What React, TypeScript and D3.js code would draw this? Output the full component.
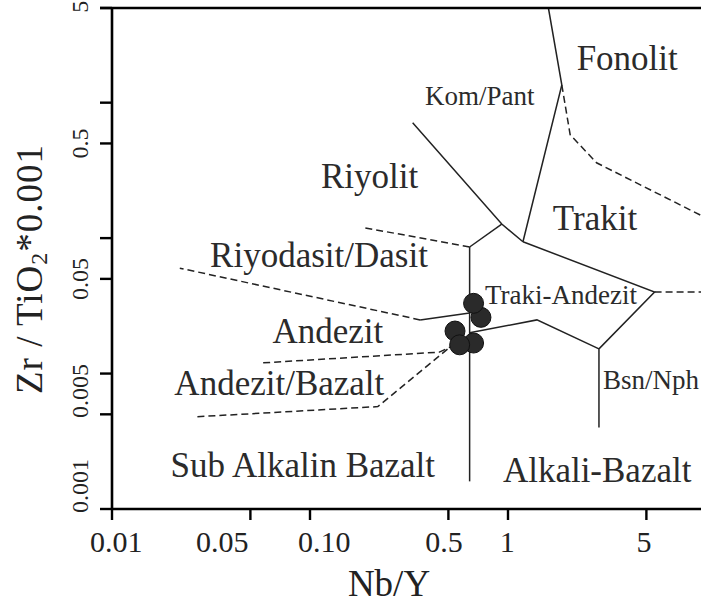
import React, { useEffect, useRef } from "react";
import * as d3 from "d3";

// Winchester & Floyd (1977) Zr/TiO2 - Nb/Y diagram
const xTicks = [0.01, 0.05, 0.1, 0.5, 1, 5, 10];
const xTickLabels = ["0.01", "0.05", "0.10", "0.5", "1", "5"];
const xLabelAt = [0.0105, 0.036, 0.118, 0.475, 0.99, 4.86];

const yTicks = [5, 1, 0.5, 0.1, 0.05, 0.01, 0.005, 0.001];
const yTickLabels = ["5", "0.5", "0.05", "0.005", "0.001"];
const yLabelAt = [5.1, 0.5, 0.05, 0.00744, 0.00148];

// field boundaries [Nb/Y, Zr/TiO2]
const solidLines: number[][][] = [
  [[1.6, 5], [1.87, 1.35], [1.19, 0.094]],
  [[0.33, 0.71], [0.93, 0.127], [1.19, 0.094]],
  [[0.93, 0.127], [0.64, 0.086]],
  [[0.64, 0.086], [0.64, 0.0016]],
  [[1.19, 0.094], [5.5, 0.04], [2.88, 0.0152], [2.88, 0.004]],
  [[2.88, 0.0152], [1.4, 0.0249], [0.64, 0.02]],
  [[0.64, 0.028], [0.36, 0.0249]],
];
const dashedLines: number[][][] = [
  [[0.36, 0.0249], [0.022, 0.06]],
  [[0.64, 0.086], [0.19, 0.119]],
  [[0.058, 0.012], [0.45, 0.0144], [0.54, 0.0163]],
  [[0.027, 0.0048], [0.22, 0.0057], [0.51, 0.0157]],
  [[1.87, 1.35], [2.06, 0.58], [2.8, 0.36], [10, 0.141]],
  [[5.5, 0.04], [10, 0.04]],
];

const fieldNames = [
  "Fonolit", "Kom/Pant", "Riyolit", "Trakit", "Riyodasit/Dasit", "Traki-Andezit",
  "Andezit", "Andezit/Bazalt", "Sub Alkalin Bazalt", "Alkali-Bazalt", "Bsn/Nph",
];
const fieldX = [4.0, 0.72, 0.2, 2.75, 0.111, 1.85, 0.123, 0.07, 0.092, 2.82, 3.02];
const fieldY = [1.75, 0.96, 0.235, 0.115, 0.0612, 0.0327, 0.0168, 0.00695, 0.00172, 0.00158, 0.0077];
const smallFields = ["Kom/Pant", "Traki-Andezit", "Bsn/Nph"];

// samples
const sampleNbY = [0.73, 0.67, 0.67, 0.54, 0.57];
const sampleZrTi = [0.026, 0.033, 0.0168, 0.0206, 0.0163];

const W = 701;
const H = 609;
const FONT = "'Liberation Serif', 'Times New Roman', serif";

export default function App() {
  const ref = useRef<SVGSVGElement>(null);

  useEffect(() => {
    const svg = d3.select(ref.current);
    svg.selectAll("*").remove();

    const x = d3.scaleLog().domain([0.01, 10]).range([112, 706]);
    const y = d3.scaleLog().domain([0.001, 5]).range([509, 8]);

    const line = d3
      .line<number[]>()
      .x(d => x(d[0]))
      .y(d => y(d[1]));

    const g = svg.append("g");

    g.selectAll("path.solid")
      .data(solidLines)
      .enter()
      .append("path")
      .attr("class", "solid")
      .attr("d", line)
      .attr("fill", "none")
      .attr("stroke", "#222")
      .attr("stroke-width", 1.5);

    g.selectAll("path.dashed")
      .data(dashedLines)
      .enter()
      .append("path")
      .attr("class", "dashed")
      .attr("d", line)
      .attr("fill", "none")
      .attr("stroke", "#222")
      .attr("stroke-width", 1.5)
      .attr("stroke-dasharray", "7,4");

    // field names
    g.selectAll("text.field")
      .data(fieldNames)
      .enter()
      .append("text")
      .attr("class", "field")
      .attr("x", (d, i) => x(fieldX[i]))
      .attr("y", (d, i) => y(fieldY[i]))
      .attr("text-anchor", d => (d === "Bsn/Nph" ? "start" : "middle"))
      .attr("font-family", FONT)
      .attr("font-size", d => (smallFields.includes(d) ? 27 : 35))
      .attr("fill", "#2b2b2b")
      .text(d => d);

    // samples
    g.selectAll("circle")
      .data(sampleNbY)
      .enter()
      .append("circle")
      .attr("cx", d => x(d))
      .attr("cy", (d, i) => y(sampleZrTi[i]))
      .attr("r", 10)
      .attr("fill", "#2a2a2a")
      .attr("stroke", "#111")
      .attr("stroke-width", 1);

    // axes
    const axisColor = "#000";
    svg.append("line")
      .attr("x1", 112).attr("x2", 112)
      .attr("y1", y(5)).attr("y2", y(0.001))
      .attr("stroke", axisColor).attr("stroke-width", 2.6);
    svg.append("line")
      .attr("x1", 111).attr("x2", W)
      .attr("y1", y(0.001)).attr("y2", y(0.001))
      .attr("stroke", axisColor).attr("stroke-width", 2.6);
    svg.append("line")
      .attr("x1", 100).attr("x2", W)
      .attr("y1", y(5)).attr("y2", y(5))
      .attr("stroke", axisColor).attr("stroke-width", 2.6);

    svg.selectAll("line.xtick")
      .data(xTicks)
      .enter()
      .append("line")
      .attr("class", "xtick")
      .attr("x1", d => x(d)).attr("x2", d => x(d))
      .attr("y1", y(0.001)).attr("y2", y(0.001) + 11)
      .attr("stroke", axisColor).attr("stroke-width", 2.4);

    svg.selectAll("line.ytick")
      .data(yTicks)
      .enter()
      .append("line")
      .attr("class", "ytick")
      .attr("x1", 112).attr("x2", 100)
      .attr("y1", d => y(d)).attr("y2", d => y(d))
      .attr("stroke", axisColor).attr("stroke-width", 2.4);

    svg.selectAll("text.xlab")
      .data(xTickLabels)
      .enter()
      .append("text")
      .attr("class", "xlab")
      .attr("x", (d, i) => x(xLabelAt[i]))
      .attr("y", 552)
      .attr("text-anchor", "middle")
      .attr("font-family", FONT)
      .attr("font-size", 30)
      .attr("fill", "#222")
      .text(d => d);

    svg.selectAll("text.ylab")
      .data(yTickLabels)
      .enter()
      .append("text")
      .attr("class", "ylab")
      .attr("transform", (d, i) => `translate(88,${y(yLabelAt[i])}) rotate(-90)`)
      .attr("text-anchor", "middle")
      .attr("font-family", FONT)
      .attr("font-size", 24)
      .attr("fill", "#222")
      .text(d => d);

    // axis titles
    svg.append("text")
      .attr("x", 389)
      .attr("y", 596)
      .attr("text-anchor", "middle")
      .attr("font-family", FONT)
      .attr("font-size", 37)
      .attr("fill", "#222")
      .text("Nb/Y");

    const yt = svg.append("text")
      .attr("transform", "translate(42,269) rotate(-90)")
      .attr("text-anchor", "middle")
      .attr("font-family", FONT)
      .attr("font-size", 37)
      .attr("letter-spacing", 1)
      .attr("fill", "#222");
    yt.append("tspan").text("Zr / TiO");
    yt.append("tspan").attr("font-size", 24).attr("dy", 5).text("2");
    yt.append("tspan").attr("dy", -5).text("*0.001");
  }, []);

  return (
    <svg
      ref={ref}
      width={W}
      height={H}
      style={{ position: "absolute", left: 0, top: 0, background: "#fff", display: "block" }}
    />
  );
}
